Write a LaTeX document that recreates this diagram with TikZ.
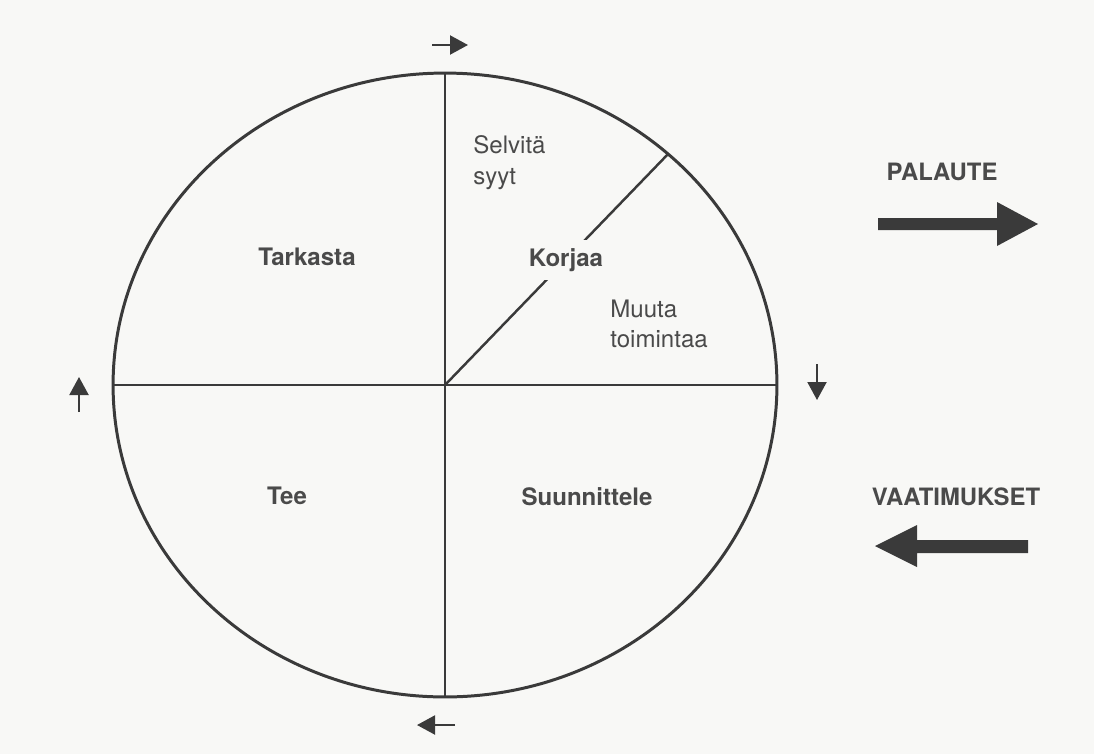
\documentclass[tikz,border=0pt]{standalone}
\usepackage{fontspec}
\setmainfont{TeX Gyre Heros}
\usetikzlibrary{arrows.meta,shapes.geometric}
\definecolor{ink}{HTML}{3A3A3A}
\definecolor{txt}{HTML}{4A4A4A}
\definecolor{paper}{HTML}{F8F8F6}
\begin{document}
\begin{tikzpicture}[x=0.02cm,y=-0.02cm,
  wheel/.style={draw=ink,line width=1.7pt,ellipse,inner sep=0pt,outer sep=0pt,
    minimum width=13.28cm,minimum height=12.48cm},
  spoke/.style={draw=ink,line width=1.4pt},
  lbl/.style={text=txt,inner sep=0pt,font=\fontsize{13.7}{17.5}\selectfont},
  blbl/.style={lbl,font=\fontsize{13.7}{17.5}\selectfont\bfseries},
  biglbl/.style={lbl,font=\fontsize{13.6}{16}\selectfont\bfseries},
  small/.style={draw=ink,line width=1.2pt,-{Triangle[length=0.36cm,width=0.38cm]}},
  bigarrow/.style={fill=ink,draw=none}]
\fill[paper] (0,0) rectangle (1094,754);
\useasboundingbox (0,0) rectangle (1094,754);

\node[wheel] (w) at (445,385) {};
\draw[spoke] (w.north) -- (w.south);
\draw[spoke] (w.west) -- (w.east);
\draw[spoke] (w.center) -- (w.46);

% labels
\node[lbl,align=left,anchor=west] (selvita) at (473,163) {Selvitä\\syyt};
\node[blbl] (tarkasta) at (307,257) {Tarkasta};
\node[blbl,fill=paper,inner xsep=3pt,inner ysep=5pt] (korjaa) at (566,260) {Korjaa};
\node[lbl,align=left,anchor=west] (muuta) at (610,324) {Muuta\\toimintaa};
\node[blbl] (tee) at (287,496) {Tee};
\node[blbl] (suunnittele) at (587,497) {Suunnittele};
\node[biglbl] (palaute) at (942,172) {PALAUTE};
\node[biglbl] (vaatimukset) at (956,497) {VAATIMUKSET};

% small direction arrows
\coordinate (t1) at (432,45);  \coordinate (t2) at (468,45);
\coordinate (r1) at (817,364); \coordinate (r2) at (817,400);
\coordinate (b1) at (455,725); \coordinate (b2) at (417,725);
\coordinate (l1) at (79,412);  \coordinate (l2) at (79,377);
\draw[small] (t1) -- (t2);
\draw[small] (r1) -- (r2);
\draw[small] (b1) -- (b2);
\draw[small] (l1) -- (l2);

% big arrows
\fill[bigarrow] (878,218) -- (997,218) -- (997,202) -- (1038,224) -- (997,246) -- (997,230) -- (878,230) -- cycle;
\fill[bigarrow] (1028,540) -- (917,540) -- (917,525) -- (875,546) -- (917,567) -- (917,553) -- (1028,553) -- cycle;
\end{tikzpicture}
\end{document}
